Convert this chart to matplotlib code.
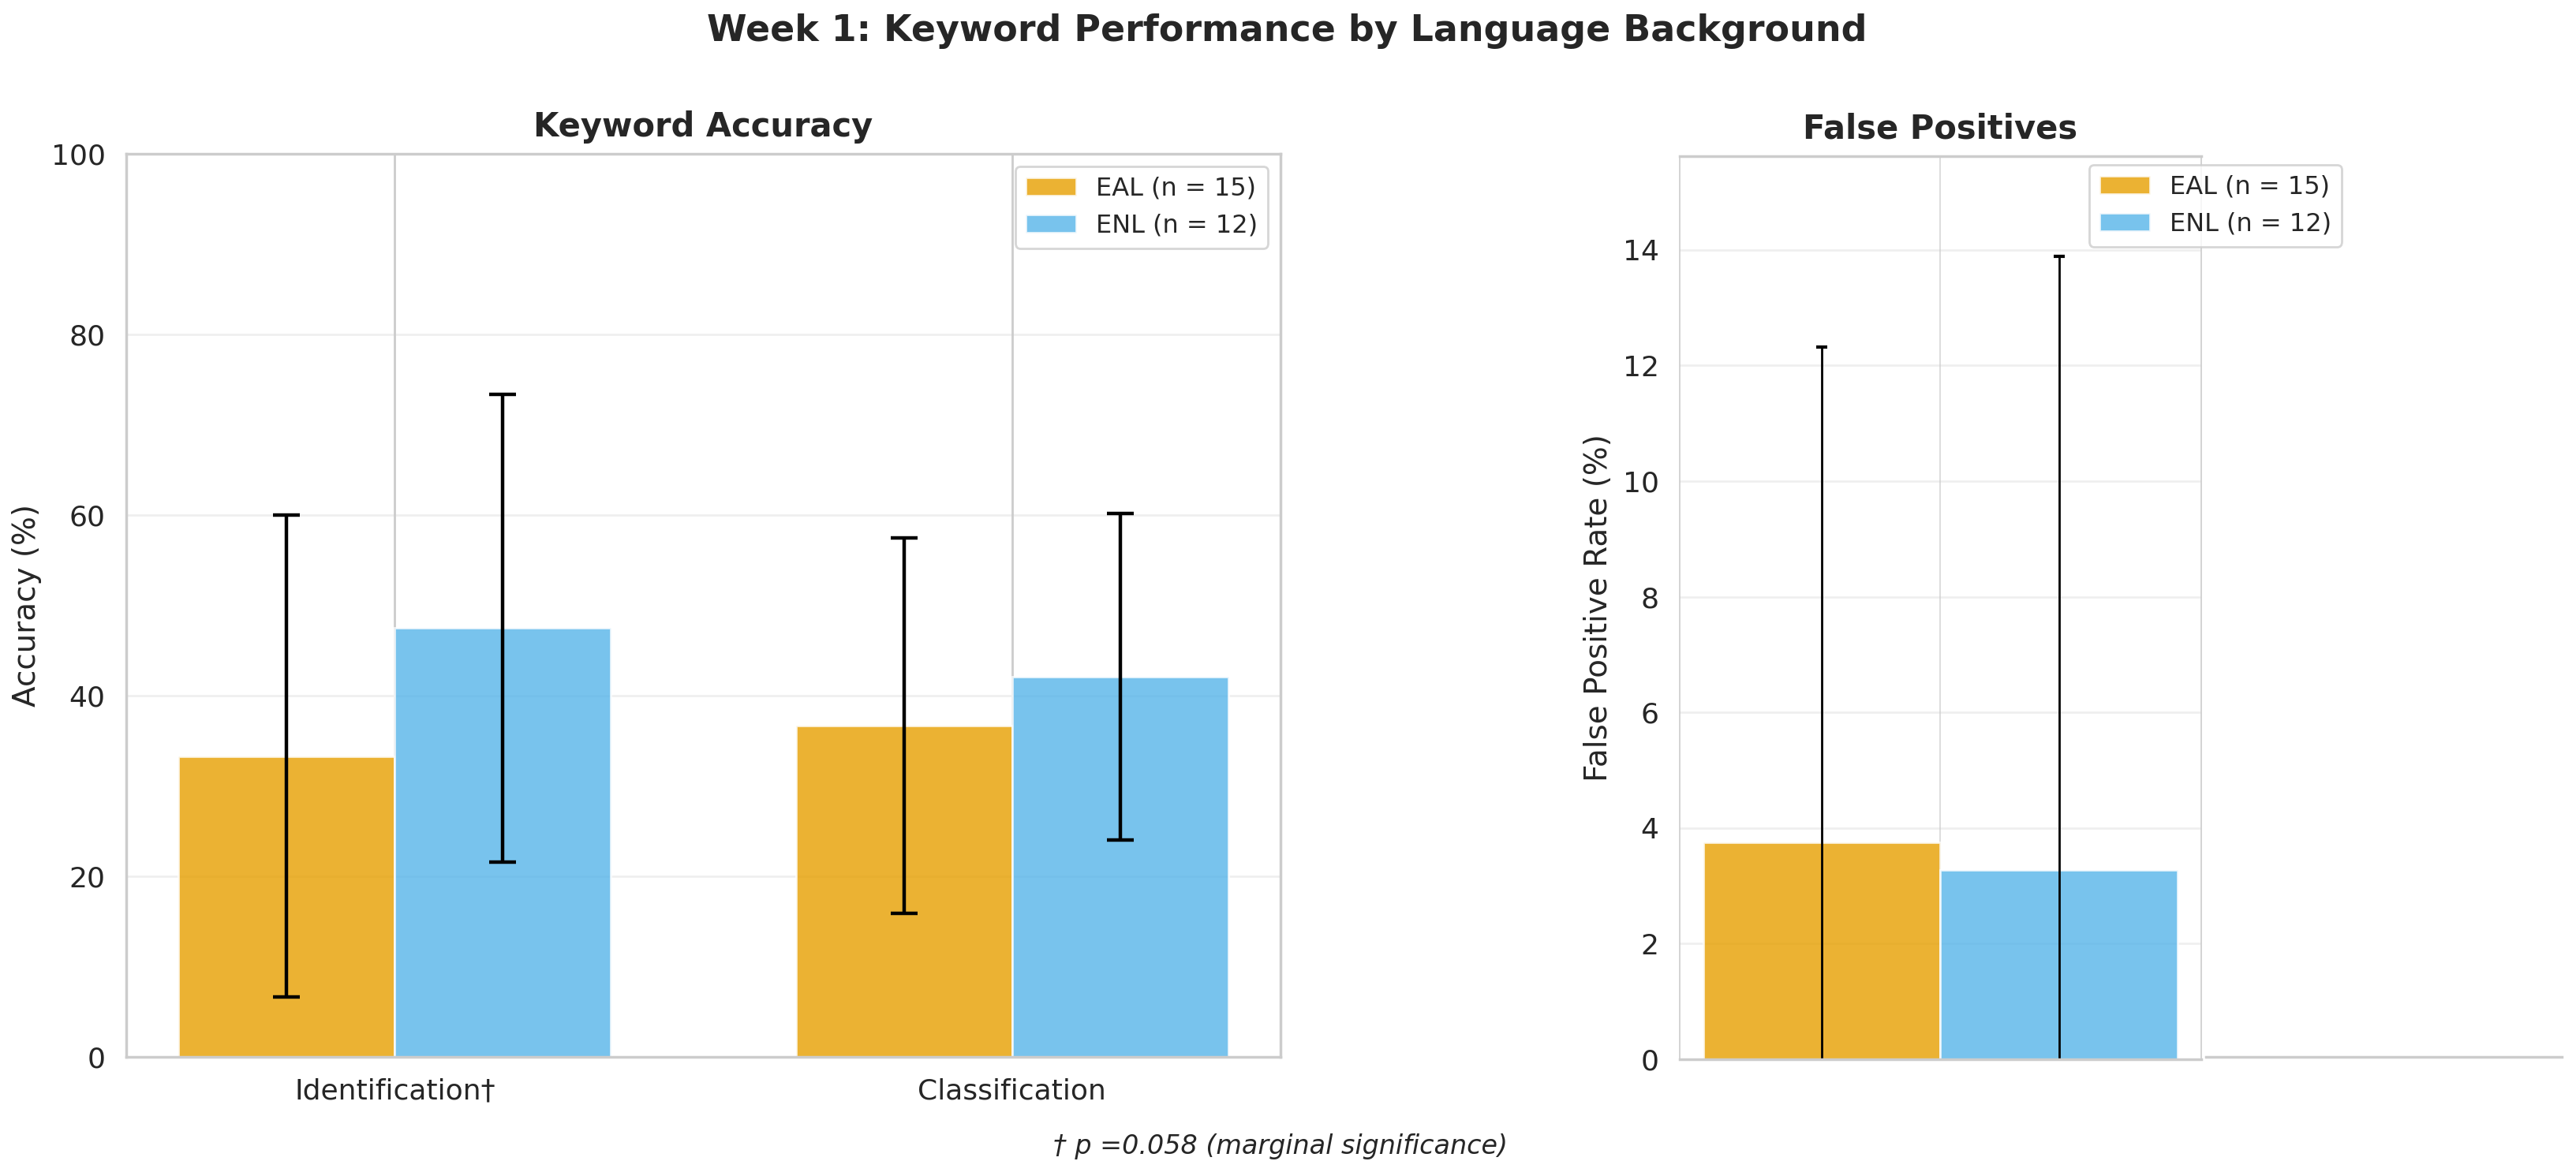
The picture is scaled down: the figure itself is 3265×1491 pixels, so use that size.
import numpy as np
import matplotlib
matplotlib.use('Agg')
import matplotlib.pyplot as plt
import seaborn as sns

# data
tasks = ['Identification\u2020', 'Classification']
groups = ['EAL (n = 15)', 'ENL (n = 12)']
eal_acc = [33.3, 36.7]
eal_acc_sd = [26.7, 20.8]
enl_acc = [47.5, 42.1]
enl_acc_sd = [25.9, 18.1]
fp_mean = [3.75, 3.27]
fp_sd = [8.57, 10.62]

colors = ['#E69F00', '#56B4E9']

sns.set_theme(style='whitegrid', font_scale=1.2)
plt.rcParams['font.family'] = ['DejaVu Sans']

W, H = 3266, 1491
fig = plt.figure(figsize=(W / 200, H / 200), dpi=200)

def box(x0, y0, x1, y1):
    return [x0 / W, 1 - y1 / H, (x1 - x0) / W, (y1 - y0) / H]

ax1 = fig.add_axes(box(160, 195, 1623, 1340))
ax2 = fig.add_axes(box(2129, 198, 2790, 1343))
ax3 = fig.add_axes(box(2796, 198, 3247, 1340))

width = 0.35
x = np.arange(len(tasks))

# Keyword accuracy
ax1.bar(x - width / 2, eal_acc, width, yerr=eal_acc_sd, capsize=6,
        color=colors[0], alpha=0.8, edgecolor='white', linewidth=1,
        error_kw={'elinewidth': 1.6, 'capthick': 1.6, 'ecolor': 'black'}, label=groups[0])
ax1.bar(x + width / 2, enl_acc, width, yerr=enl_acc_sd, capsize=6,
        color=colors[1], alpha=0.8, edgecolor='white', linewidth=1,
        error_kw={'elinewidth': 1.6, 'capthick': 1.6, 'ecolor': 'black'}, label=groups[1])
ax1.set_ylim(0, 100)
ax1.set_xticks(x)
ax1.set_xticklabels(tasks, fontsize=13)
ax1.tick_params(axis='y', labelsize=13)
ax1.set_ylabel('Accuracy (%)', fontsize=14)
ax1.set_title('Keyword Accuracy', fontsize=15, fontweight='bold', pad=8)
ax1.grid(axis='y', alpha=0.3)
ax1.legend(fontsize=11.5, loc='upper right')

# False positives
ax2.bar(-width / 2, fp_mean[0], width, yerr=fp_sd[0], capsize=2.5,
        color=colors[0], alpha=0.8, edgecolor='white', linewidth=1,
        error_kw={'elinewidth': 1, 'capthick': 1.5, 'ecolor': 'black'}, label=groups[0])
ax2.bar(width / 2, fp_mean[1], width, yerr=fp_sd[1], capsize=2.5,
        color=colors[1], alpha=0.8, edgecolor='white', linewidth=1,
        error_kw={'elinewidth': 1, 'capthick': 1.5, 'ecolor': 'black'}, label=groups[1])
ax2.set_xlim(-0.385, 0.385)
ax2.set_ylim(0, 15.62)
ax2.set_yticks([0, 2, 4, 6, 8, 10, 12, 14])
ax2.set_xticks([0])
ax2.set_xticklabels([''])
ax2.tick_params(axis='y', labelsize=13)
ax2.set_ylabel('False Positive Rate (%)', fontsize=14)
ax2.set_title('False Positives', fontsize=15, fontweight='bold', pad=8)
ax2.grid(axis='y', alpha=0.3)
ax2.grid(axis='x', linewidth=0.6, alpha=0.8)
ax2.spines['left'].set_linewidth(0.6)
ax2.spines['right'].set_linewidth(0.6)
ax2.legend(fontsize=11.5, loc='upper right', borderaxespad=0,
           bbox_to_anchor=((2968 - 2129) / 661, 1 - 11 / 1145))

# leftover baseline to the right of the false positive panel
ax3.patch.set_visible(False)
ax3.grid(False)
ax3.set_xticks([])
ax3.set_yticks([])
for s in ['left', 'right', 'top']:
    ax3.spines[s].set_visible(False)

fig.suptitle('Week 1: Keyword Performance by Language Background',
             fontsize=16.5, fontweight='bold', x=1631 / W, y=1 - 40 / H, va='center')
fig.text(1623 / W, 1 - 1454 / H, '\u2020 p =0.058 (marginal significance)',
         ha='center', va='center', fontsize=12, style='italic')

fig.savefig('out.png', dpi=200)
